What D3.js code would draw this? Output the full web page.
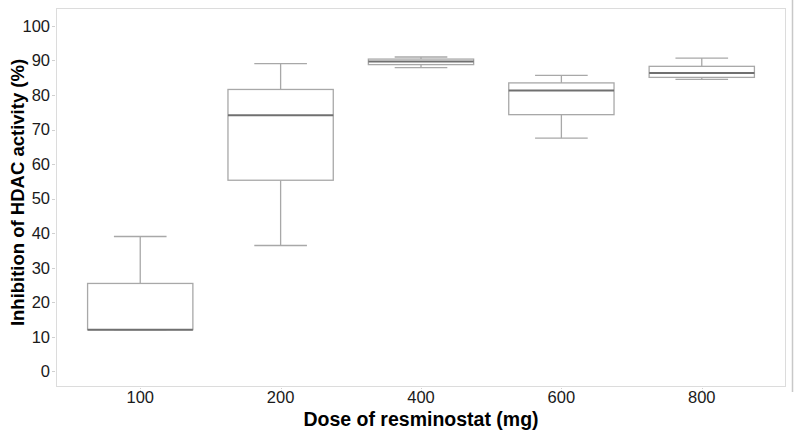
<!DOCTYPE html>
<html>
<head>
<meta charset="utf-8">
<script src="https://cdn.jsdelivr.net/npm/d3@7"></script>
<style>
  body { margin: 0; background: #fff; }
  svg { display: block; font-family: "Liberation Sans", Arial, sans-serif; }
</style>
</head>
<body>
<svg id="chart" width="800" height="434"></svg>
<script>
const categories = ["100", "200", "400", "600", "800"];
const whiskerLow  = [12.0, 36.4, 87.9, 67.5, 84.5];
const q1          = [12.0, 55.3, 88.8, 74.3, 85.1];
const median      = [12.0, 74.1, 89.7, 81.3, 86.4];
const q3          = [25.4, 81.6, 90.4, 83.5, 88.3];
const whiskerHigh = [39.0, 89.1, 91.0, 85.7, 90.7];
const yTicks = [0, 10, 20, 30, 40, 50, 60, 70, 80, 90, 100];

const data = categories.map((c, i) => ({
  cat: c, lo: whiskerLow[i], q1: q1[i], med: median[i], q3: q3[i], hi: whiskerHigh[i]
}));

const svg = d3.select("#chart");
const panel = { left: 56, right: 786, top: 8, bottom: 387 };

// ggplot-like discrete axis: outer expansion of 0.6 step on each side
const x = d3.scalePoint().domain(categories)
  .range([panel.left, panel.right]).padding(0.6);
const step = x.step();
const xc = d => x(d);
const boxW = step * 0.75;

const y = d3.scaleLinear().domain([-4.6, 105.2]).range([panel.bottom, panel.top]);

// panel border
svg.append("rect")
  .attr("x", panel.left + 0.5).attr("y", panel.top + 0.5)
  .attr("width", panel.right - panel.left - 1).attr("height", panel.bottom - panel.top - 1)
  .attr("fill", "none").attr("stroke", "#dcdcdc").attr("stroke-width", 1);

// outer frame line at right
svg.append("line")
  .attr("x1", 792.5).attr("x2", 792.5).attr("y1", 0).attr("y2", 392)
  .attr("stroke", "#c8c8c8").attr("stroke-width", 1.5);

// y axis ticks & labels
const gy = svg.append("g");
gy.selectAll("line").data(yTicks).join("line")
  .attr("x1", panel.left - 4).attr("x2", panel.left - 1)
  .attr("y1", d => Math.round(y(d)) + 0.5).attr("y2", d => Math.round(y(d)) + 0.5)
  .attr("stroke", "#d0d0d0");
gy.selectAll("text").data(yTicks).join("text")
  .attr("x", panel.left - 6).attr("y", d => y(d))
  .attr("dy", "0.36em").attr("text-anchor", "end")
  .attr("font-size", 16.5).attr("fill", "#1a1a1a")
  .text(d => d);

// x axis ticks & labels
const gx = svg.append("g");
gx.selectAll("line").data(categories).join("line")
  .attr("x1", d => Math.round(xc(d)) + 0.5).attr("x2", d => Math.round(xc(d)) + 0.5)
  .attr("y1", panel.bottom + 1).attr("y2", panel.bottom + 4)
  .attr("stroke", "#d0d0d0").attr("stroke-dasharray", "1,1");
gx.selectAll("text").data(categories).join("text")
  .attr("x", d => xc(d)).attr("y", 397)
  .attr("dy", "0.36em").attr("text-anchor", "middle")
  .attr("font-size", 16.5).attr("fill", "#1a1a1a")
  .text(d => d);

// boxes
const g = svg.append("g");
const boxes = g.selectAll("g.box").data(data).join("g").attr("class", "box");
const boxStroke = "#a8a8a8";
// whiskers (vertical)
boxes.append("line")
  .attr("x1", d => xc(d.cat)).attr("x2", d => xc(d.cat))
  .attr("y1", d => y(d.hi)).attr("y2", d => y(d.q3))
  .attr("stroke", boxStroke).attr("stroke-width", 1.3);
boxes.append("line")
  .attr("x1", d => xc(d.cat)).attr("x2", d => xc(d.cat))
  .attr("y1", d => y(d.q1)).attr("y2", d => y(d.lo))
  .attr("stroke", boxStroke).attr("stroke-width", 1.3);
// whisker caps
boxes.append("line")
  .attr("x1", d => xc(d.cat) - boxW / 4).attr("x2", d => xc(d.cat) + boxW / 4)
  .attr("y1", d => y(d.hi)).attr("y2", d => y(d.hi))
  .attr("stroke", boxStroke).attr("stroke-width", 1.3);
boxes.append("line")
  .attr("x1", d => xc(d.cat) - boxW / 4).attr("x2", d => xc(d.cat) + boxW / 4)
  .attr("y1", d => y(d.lo)).attr("y2", d => y(d.lo))
  .attr("stroke", boxStroke).attr("stroke-width", 1.3);
// box
boxes.append("rect")
  .attr("x", d => xc(d.cat) - boxW / 2).attr("width", boxW)
  .attr("y", d => y(d.q3)).attr("height", d => y(d.q1) - y(d.q3))
  .attr("fill", "#fff").attr("stroke", boxStroke).attr("stroke-width", 1.3);
// median
boxes.append("line")
  .attr("x1", d => xc(d.cat) - boxW / 2).attr("x2", d => xc(d.cat) + boxW / 2)
  .attr("y1", d => y(d.med)).attr("y2", d => y(d.med))
  .attr("stroke", "#707070").attr("stroke-width", 2);

// axis titles
svg.append("text")
  .attr("transform", `translate(24, ${(panel.top + panel.bottom) / 2 - 5}) rotate(-90)`)
  .attr("text-anchor", "middle").attr("font-size", 18.5).attr("font-weight", "bold")
  .attr("fill", "#000")
  .text("Inhibition of HDAC activity (%)");
svg.append("text")
  .attr("x", (panel.left + panel.right) / 2).attr("y", 426)
  .attr("text-anchor", "middle").attr("font-size", 19.5).attr("font-weight", "bold")
  .attr("fill", "#000")
  .text("Dose of resminostat (mg)");
</script>
</body>
</html>
